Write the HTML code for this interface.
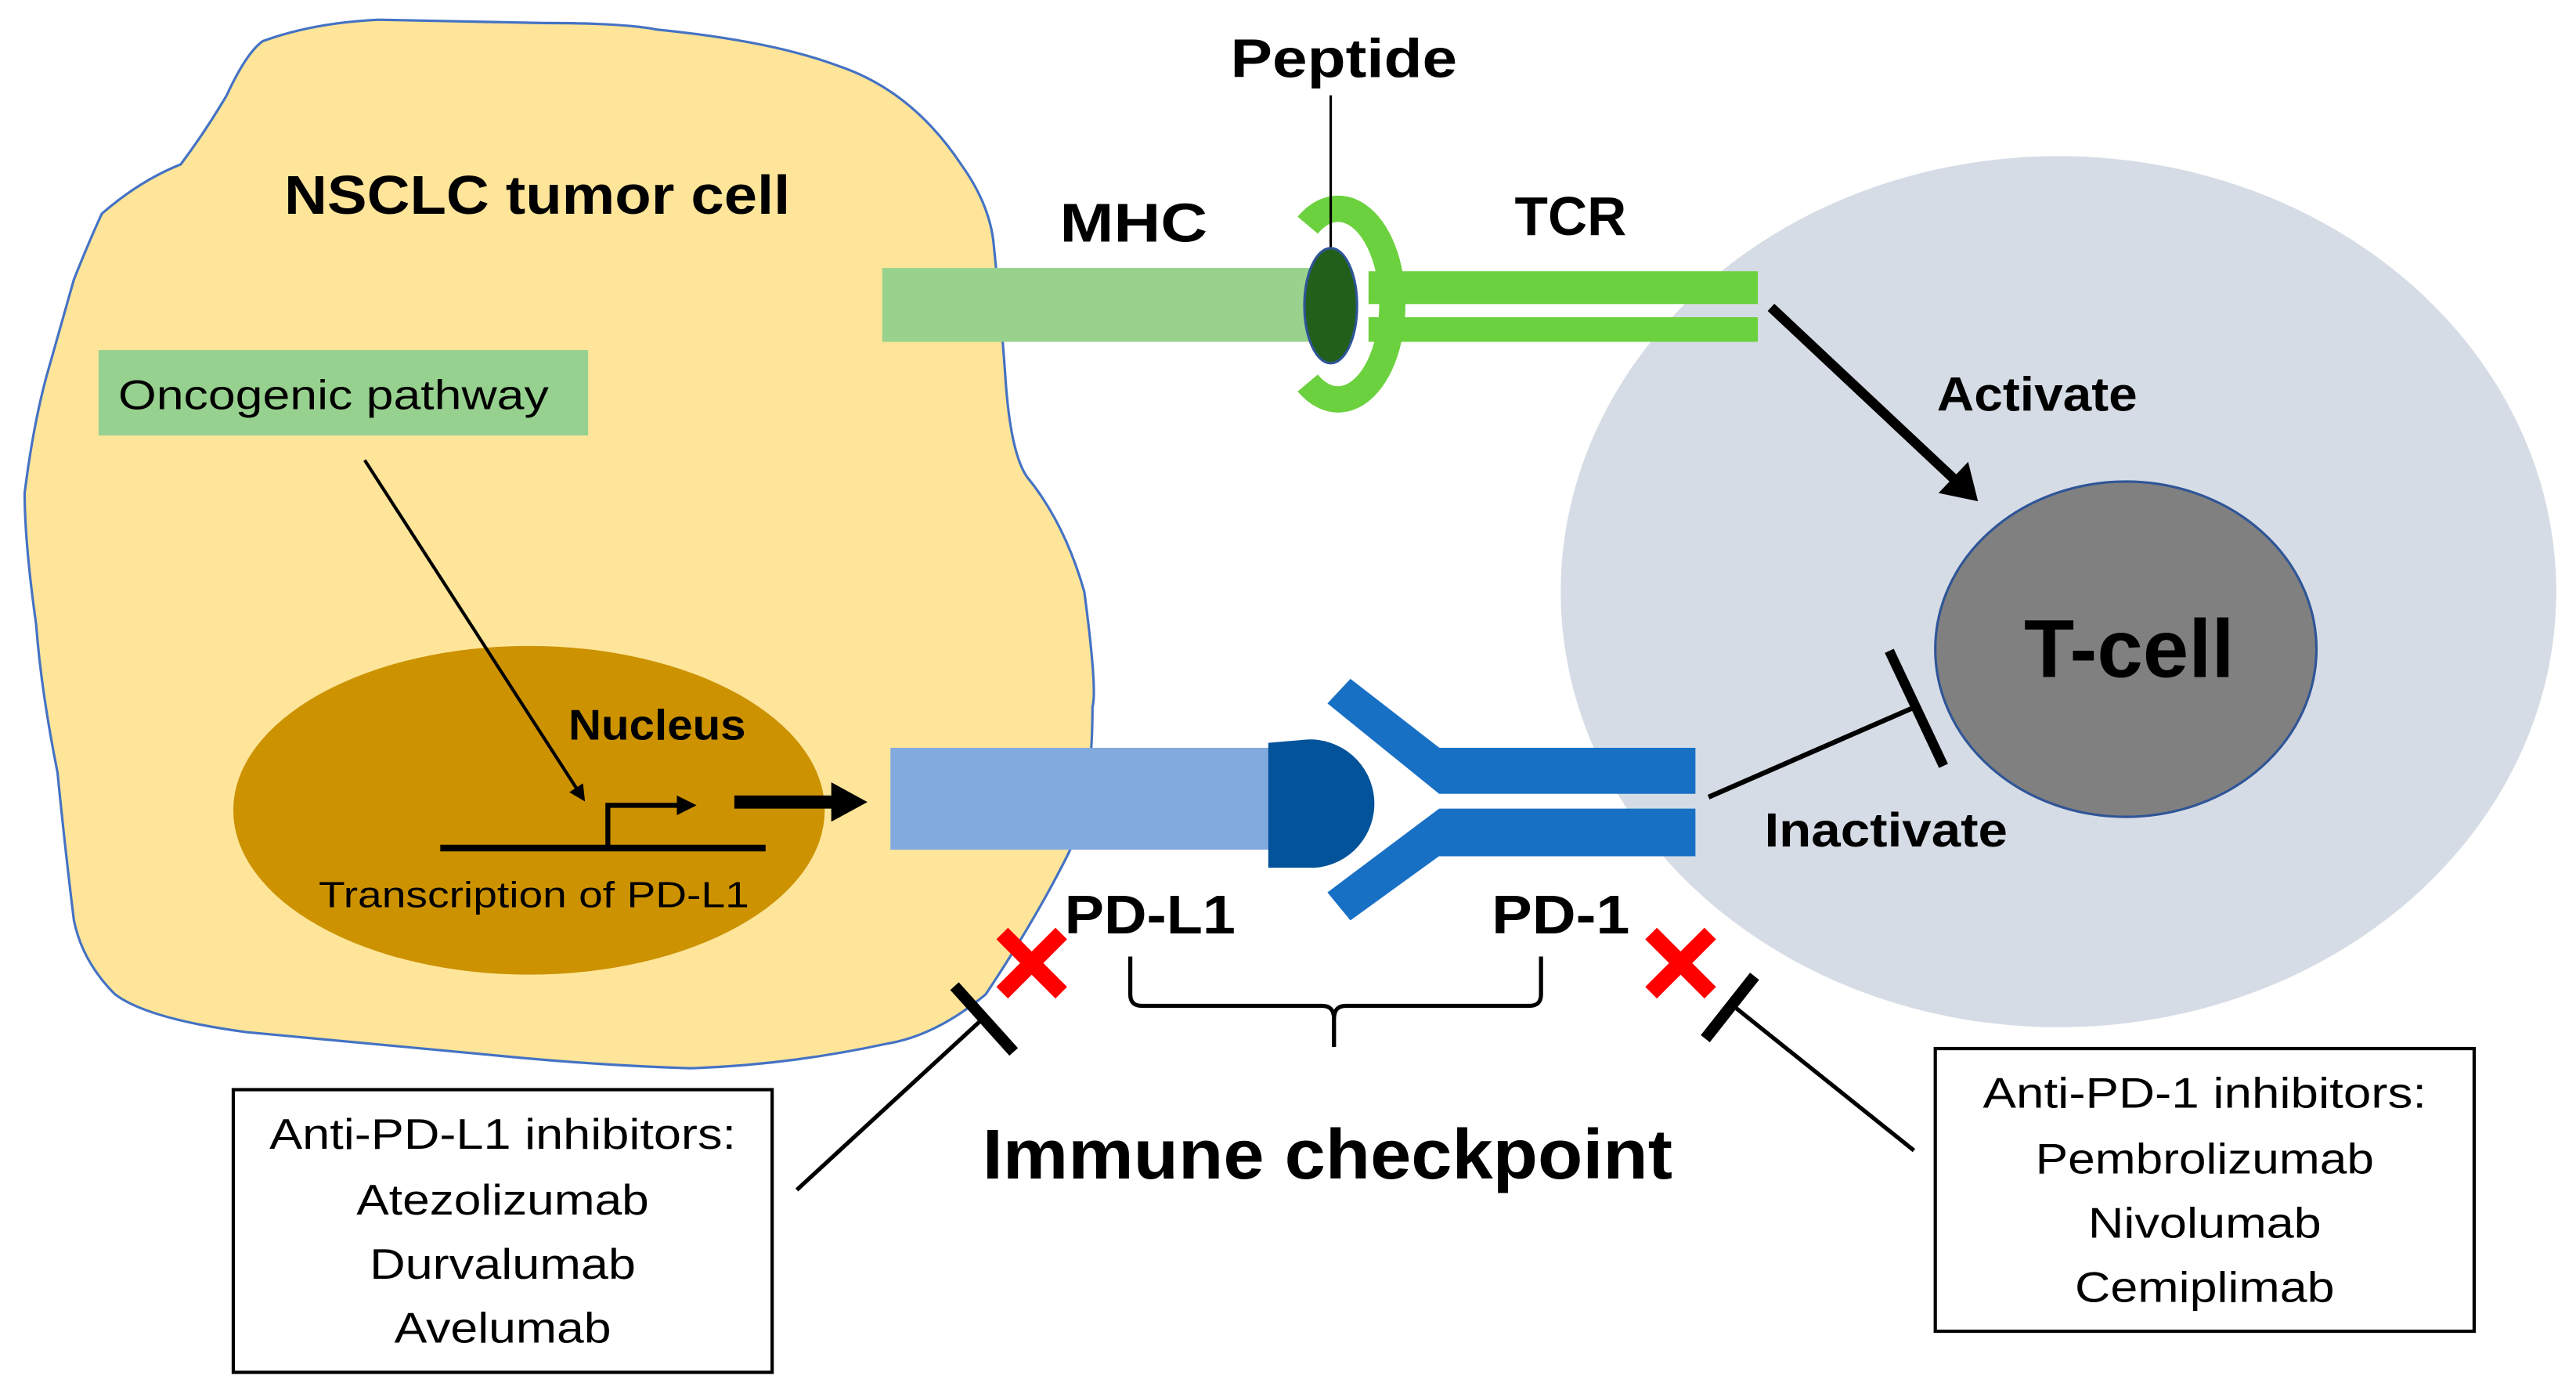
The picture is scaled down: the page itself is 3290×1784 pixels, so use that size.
<!DOCTYPE html>
<html><head><meta charset="utf-8"><style>html,body{margin:0;padding:0;background:#fff}svg{display:block}</style></head>
<body>
<svg width="3290" height="1784" viewBox="0 0 1568 850" preserveAspectRatio="none" xmlns="http://www.w3.org/2000/svg" font-family="Liberation Sans, sans-serif">
<defs>
<marker id="ah" markerWidth="10" markerHeight="10" refX="8" refY="5" orient="auto" markerUnits="userSpaceOnUse"><path d="M0,0 L10,5 L0,10 z" fill="#000"/></marker>
</defs>
<!-- tumor cell -->
<path d="M160,25 Q190,14 230,12 L330,14 Q380,14 400,18 Q470,25 510,40 Q555,55 585,100 Q603,125 605,150 Q610,200 612,230 Q615,275 625,290 Q648,318 660,360 Q668,420 665,430 Q665,490 650,520 Q630,560 600,605 Q570,630 540,635 Q480,648 420,650 Q360,648 300,642 L150,628 Q90,620 70,605 Q50,585 45,560 Q40,520 35,470 Q25,420 22,380 Q15,330 15,300 Q20,260 28,230 Q38,195 45,170 Q55,145 62,130 Q85,110 110,100 Q125,80 138,58 Q150,32 160,25 Z" fill="#fee599" stroke="#4472c4" stroke-width="1.5"/>
<text x="327" y="130" font-size="33" font-weight="bold" text-anchor="middle" textLength="308" lengthAdjust="spacingAndGlyphs">NSCLC tumor cell</text>
<rect x="60" y="213" width="298" height="52" fill="#97d18f"/>
<text x="203" y="249" font-size="25" text-anchor="middle" textLength="262" lengthAdjust="spacingAndGlyphs">Oncogenic pathway</text>
<!-- nucleus -->
<ellipse cx="322" cy="493" rx="180" ry="100" fill="#cc9200"/>
<line x1="222" y1="280" x2="355" y2="486" stroke="#000" stroke-width="2" marker-end="url(#ah)"/>
<text x="400" y="450" font-size="26" font-weight="bold" text-anchor="middle" textLength="108" lengthAdjust="spacingAndGlyphs">Nucleus</text>
<line x1="268" y1="516" x2="466" y2="516" stroke="#000" stroke-width="4"/>
<polyline points="370,516 370,490 416,490" fill="none" stroke="#000" stroke-width="3"/>
<path d="M412,484 L424,490 L412,496 z" fill="#000"/>
<text x="325" y="552" font-size="22" text-anchor="middle" textLength="262" lengthAdjust="spacingAndGlyphs">Transcription of PD-L1</text>
<line x1="447" y1="488" x2="510" y2="488" stroke="#000" stroke-width="8"/>
<path d="M506,476 L528,488 L506,500 z" fill="#000"/>
<!-- T cell -->
<ellipse cx="1253" cy="360" rx="303" ry="265" fill="#d6dce5"/>
<ellipse cx="1294" cy="395" rx="116" ry="102" fill="#808080" stroke="#2f5597" stroke-width="1.5"/>
<text x="1296" y="412" font-size="50" font-weight="bold" text-anchor="middle" textLength="128" lengthAdjust="spacingAndGlyphs">T-cell</text>
<!-- MHC / TCR -->
<rect x="537" y="163" width="263" height="45" fill="#98d28d"/>
<text x="690" y="147" font-size="33" font-weight="bold" text-anchor="middle" textLength="90" lengthAdjust="spacingAndGlyphs">MHC</text>
<rect x="833" y="165" width="237" height="20" fill="#6cd13e"/>
<rect x="833" y="193" width="237" height="15" fill="#6cd13e"/>
<path d="M796,137 A33,58 0 1 1 796,233" fill="none" stroke="#6cd13e" stroke-width="16"/>
<line x1="810" y1="58" x2="810" y2="155" stroke="#000" stroke-width="1.5"/>
<ellipse cx="810" cy="186" rx="16" ry="35" fill="#215f1a" stroke="#2f5597" stroke-width="1.5"/>
<text x="818" y="47" font-size="33" font-weight="bold" text-anchor="middle" textLength="138" lengthAdjust="spacingAndGlyphs">Peptide</text>
<text x="956" y="143" font-size="33" font-weight="bold" text-anchor="middle" textLength="68" lengthAdjust="spacingAndGlyphs">TCR</text>
<line x1="1078" y1="187" x2="1190" y2="292" stroke="#000" stroke-width="6"/>
<path d="M1180,300 L1204,305 L1198,281 z" fill="#000"/>
<text x="1240" y="250" font-size="29" font-weight="bold" text-anchor="middle" textLength="122" lengthAdjust="spacingAndGlyphs">Activate</text>
<!-- PD-L1 / PD-1 -->
<rect x="542" y="455" width="240" height="62" fill="#83aadf"/>
<path d="M772,452 L795,450 A38,38 0 0 1 800,528 L772,528 z" fill="#02539a"/>
<rect x="876" y="455" width="156" height="28" fill="#1870c5"/>
<rect x="876" y="492" width="156" height="29" fill="#1870c5"/>
<polygon points="808,428 822,413 880,458 876,483" fill="#1870c5"/>
<polygon points="876,492 880,518 822,560 808,543" fill="#1870c5"/>
<line x1="1040" y1="485" x2="1166" y2="430" stroke="#000" stroke-width="3"/>
<line x1="1150" y1="396" x2="1183" y2="466" stroke="#000" stroke-width="6"/>
<text x="1148" y="515" font-size="29" font-weight="bold" text-anchor="middle" textLength="148" lengthAdjust="spacingAndGlyphs">Inactivate</text>
<text x="700" y="568" font-size="33" font-weight="bold" text-anchor="middle" textLength="104" lengthAdjust="spacingAndGlyphs">PD-L1</text>
<text x="950" y="568" font-size="33" font-weight="bold" text-anchor="middle" textLength="84" lengthAdjust="spacingAndGlyphs">PD-1</text>
<!-- red X -->
<g stroke="#ff0000" stroke-width="10">
<line x1="610" y1="568" x2="646" y2="604"/><line x1="646" y1="568" x2="610" y2="604"/>
<line x1="1005" y1="568" x2="1041" y2="604"/><line x1="1041" y1="568" x2="1005" y2="604"/>
</g>
<!-- bracket -->
<path d="M688,582 L688,605 Q688,612 695,612 L805,612 Q812,612 812,620 L812,637 M812,620 Q812,612 819,612 L931,612 Q938,612 938,605 L938,582" fill="none" stroke="#000" stroke-width="2.5"/>
<text x="808" y="717" font-size="43" font-weight="bold" text-anchor="middle" textLength="420" lengthAdjust="spacingAndGlyphs">Immune checkpoint</text>
<!-- inhibitor lines -->
<line x1="485" y1="724" x2="598" y2="620" stroke="#000" stroke-width="2.5"/>
<line x1="581" y1="600" x2="617" y2="640" stroke="#000" stroke-width="7"/>
<line x1="1165" y1="700" x2="1055" y2="612" stroke="#000" stroke-width="2.5"/>
<line x1="1038" y1="632" x2="1068" y2="594" stroke="#000" stroke-width="7"/>
<!-- boxes -->
<rect x="142" y="663" width="328" height="172" fill="#fff" stroke="#000" stroke-width="2"/>
<g font-size="26" text-anchor="middle">
<text x="306" y="699" textLength="284" lengthAdjust="spacingAndGlyphs">Anti-PD-L1 inhibitors:</text>
<text x="306" y="739" textLength="178" lengthAdjust="spacingAndGlyphs">Atezolizumab</text>
<text x="306" y="778" textLength="162" lengthAdjust="spacingAndGlyphs">Durvalumab</text>
<text x="306" y="817" textLength="132" lengthAdjust="spacingAndGlyphs">Avelumab</text>
</g>
<rect x="1178" y="638" width="328" height="172" fill="#fff" stroke="#000" stroke-width="2"/>
<g font-size="26" text-anchor="middle">
<text x="1342" y="674" textLength="270" lengthAdjust="spacingAndGlyphs">Anti-PD-1 inhibitors:</text>
<text x="1342" y="714" textLength="206" lengthAdjust="spacingAndGlyphs">Pembrolizumab</text>
<text x="1342" y="753" textLength="142" lengthAdjust="spacingAndGlyphs">Nivolumab</text>
<text x="1342" y="792" textLength="158" lengthAdjust="spacingAndGlyphs">Cemiplimab</text>
</g>
</svg>
</body></html>
